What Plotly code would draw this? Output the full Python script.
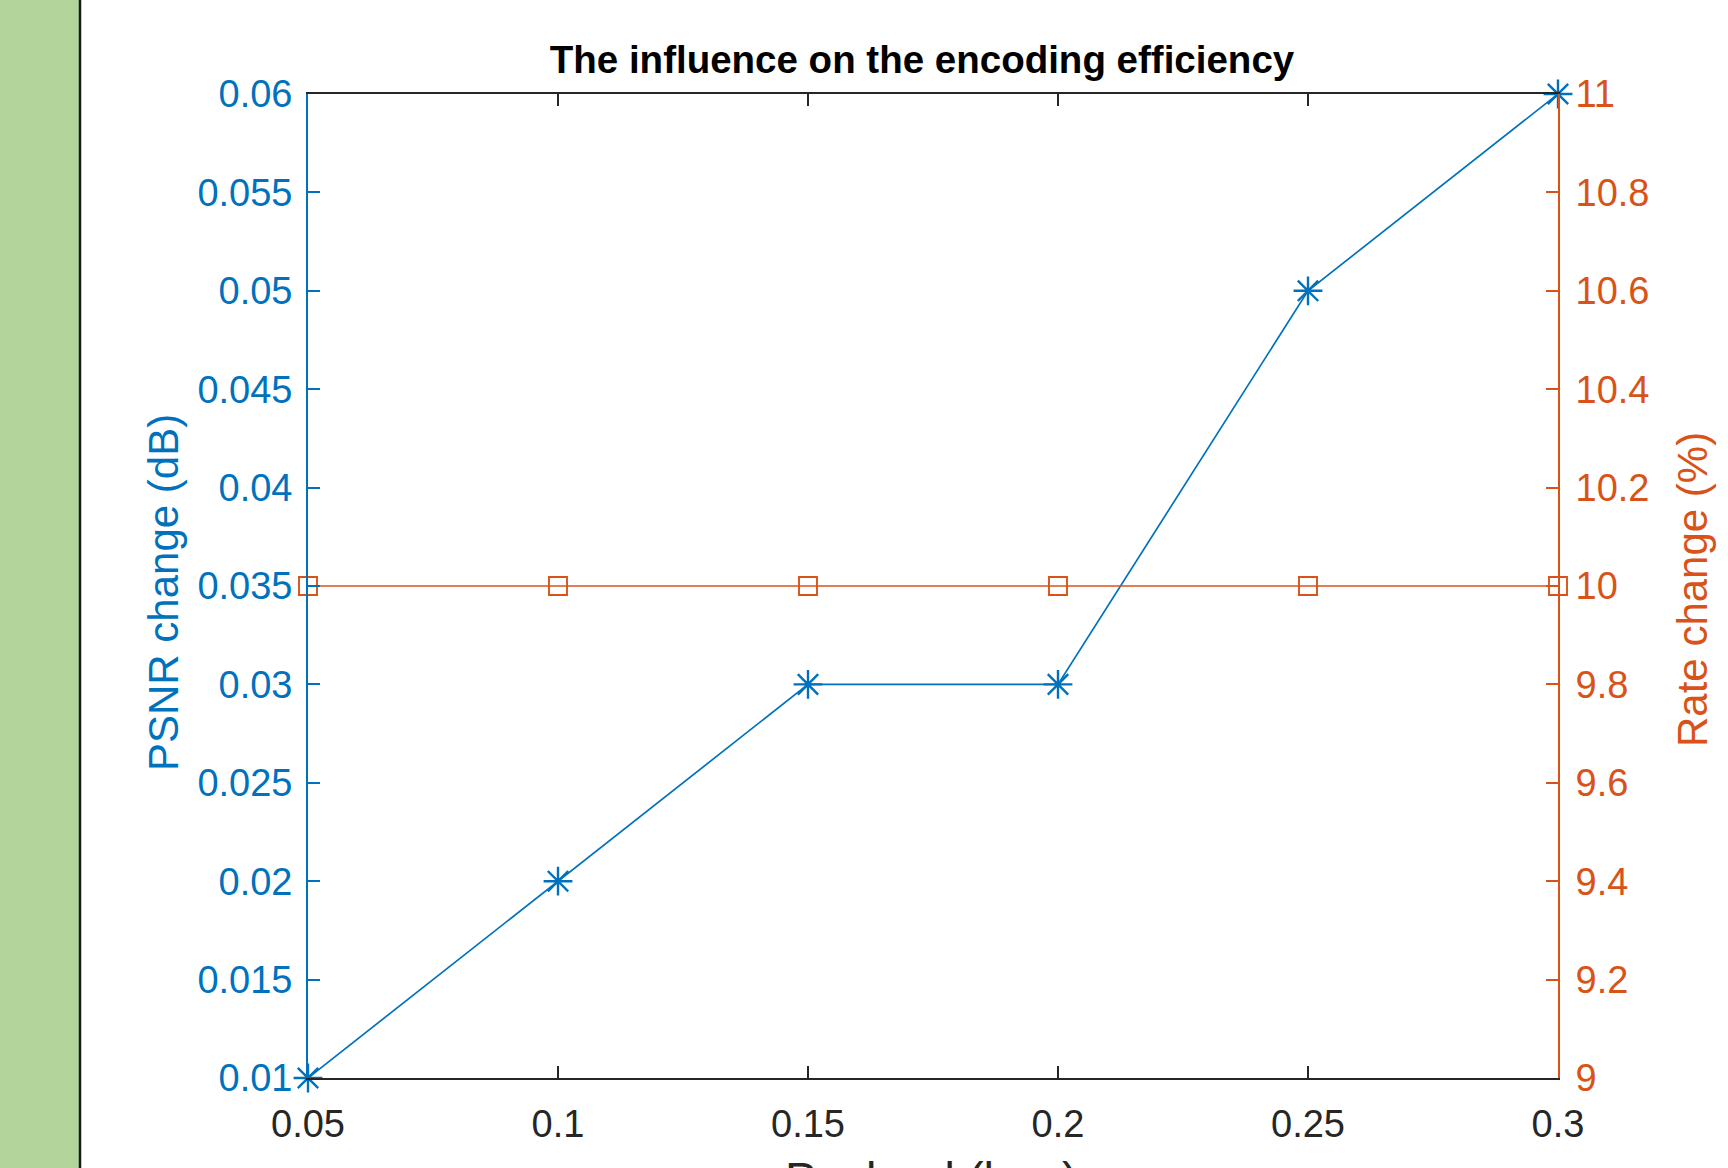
import plotly.graph_objects as go

payload = [0.05, 0.1, 0.15, 0.2, 0.25, 0.3]
psnr_change = [0.01, 0.02, 0.03, 0.03, 0.05, 0.06]
rate_change = [10, 10, 10, 10, 10, 10]

x_ticks = [0.05, 0.1, 0.15, 0.2, 0.25, 0.3]
x_ticktext = ["0.05", "0.1", "0.15", "0.2", "0.25", "0.3"]
y1_ticks = [0.01, 0.015, 0.02, 0.025, 0.03, 0.035, 0.04, 0.045, 0.05, 0.055, 0.06]
y1_ticktext = ["0.01", "0.015", "0.02", "0.025", "0.03", "0.035", "0.04", "0.045", "0.05", "0.055", "0.06"]
y2_ticks = [9, 9.2, 9.4, 9.6, 9.8, 10, 10.2, 10.4, 10.6, 10.8, 11]
y2_ticktext = ["9", "9.2", "9.4", "9.6", "9.8", "10", "10.2", "10.4", "10.6", "10.8", "11"]

BLUE = "#0072BD"
ORANGE = "#D95319"
DARK = "#262626"
FONT = "Arial, Liberation Sans, Helvetica, sans-serif"

W, H = 1728, 1168
L, R, T, B = 308, 1558, 94, 1078
pw, ph = R - L, B - T

def px_x(p):
    return (p - L) / pw

def px_y(p):
    return (B - p) / ph

fig = go.Figure()
fig.add_trace(go.Scatter(
    x=payload, y=psnr_change, mode="lines+markers",
    line=dict(color=BLUE, width=1.7),
    marker=dict(symbol="asterisk-open", size=24, color=BLUE,
                line=dict(color=BLUE, width=2.4)),
    cliponaxis=False, showlegend=False, yaxis="y"))
fig.add_trace(go.Scatter(
    x=payload, y=rate_change, mode="lines+markers",
    line=dict(color=ORANGE, width=1.7),
    marker=dict(symbol="square-open", size=18, color=ORANGE,
                line=dict(color=ORANGE, width=1.9)),
    cliponaxis=False, showlegend=False, yaxis="y2"))

fig.update_layout(
    width=W, height=H,
    margin=dict(l=L, r=W - R, t=T, b=H - B, pad=0),
    paper_bgcolor="white", plot_bgcolor="white",
    font=dict(family=FONT, size=38, color=DARK),
    title=dict(text="<b>The influence on the encoding efficiency</b>",
               x=px_x(922), xref="paper", xanchor="center",
               y=1 - 60 / H, yref="container", yanchor="middle",
               font=dict(family=FONT, size=38.5, color="#000000")),
    xaxis=dict(range=[0.05, 0.3], tickvals=x_ticks, ticktext=x_ticktext,
               ticks="inside", ticklen=12, tickwidth=1.5, tickcolor=DARK,
               showline=True, linecolor=DARK, linewidth=1.8, mirror="ticks",
               showgrid=False, zeroline=False,
               tickfont=dict(family=FONT, size=38, color=DARK),
               ticklabelstandoff=11),
    yaxis=dict(range=[0.01, 0.06], tickvals=y1_ticks, ticktext=y1_ticktext,
               ticks="inside", ticklen=12, tickwidth=1.5, tickcolor=BLUE,
               showline=True, linecolor=BLUE, linewidth=1.8,
               showgrid=False, zeroline=False,
               tickfont=dict(family=FONT, size=38, color=BLUE),
               ticklabelstandoff=6),
    yaxis2=dict(range=[9, 11], tickvals=y2_ticks, ticktext=y2_ticktext,
                overlaying="y", side="right",
                ticks="inside", ticklen=12, tickwidth=1.5, tickcolor=ORANGE,
                showline=True, linecolor=ORANGE, linewidth=1.8,
                showgrid=False, zeroline=False,
                tickfont=dict(family=FONT, size=38, color=ORANGE),
                ticklabelstandoff=8),
    shapes=[
        dict(type="rect", xref="paper", yref="paper",
             x0=px_x(-5), x1=px_x(79), y0=px_y(H + 5), y1=px_y(-5),
             fillcolor="#B3D59B", line=dict(width=0), layer="below"),
        dict(type="line", xref="paper", yref="paper",
             x0=px_x(80), x1=px_x(80), y0=px_y(H + 5), y1=px_y(-5),
             line=dict(color="#1a1a1a", width=2.5)),
    ],
    annotations=[
        dict(text="PSNR change (dB)", textangle=-90, showarrow=False,
             xref="paper", yref="paper", x=px_x(163), y=px_y(593),
             xanchor="center", yanchor="middle",
             font=dict(family=FONT, size=42, color=BLUE)),
        dict(text="Rate change (%)", textangle=-90, showarrow=False,
             xref="paper", yref="paper", x=px_x(1692), y=px_y(590),
             xanchor="center", yanchor="middle",
             font=dict(family=FONT, size=42, color=ORANGE)),
        dict(text="Payload (bpp)", showarrow=False,
             xref="paper", yref="paper", x=px_x(931), y=px_y(1150),
             xanchor="center", yanchor="top",
             font=dict(family=FONT, size=47, color=DARK)),
    ],
)

fig.write_html("out.html")
